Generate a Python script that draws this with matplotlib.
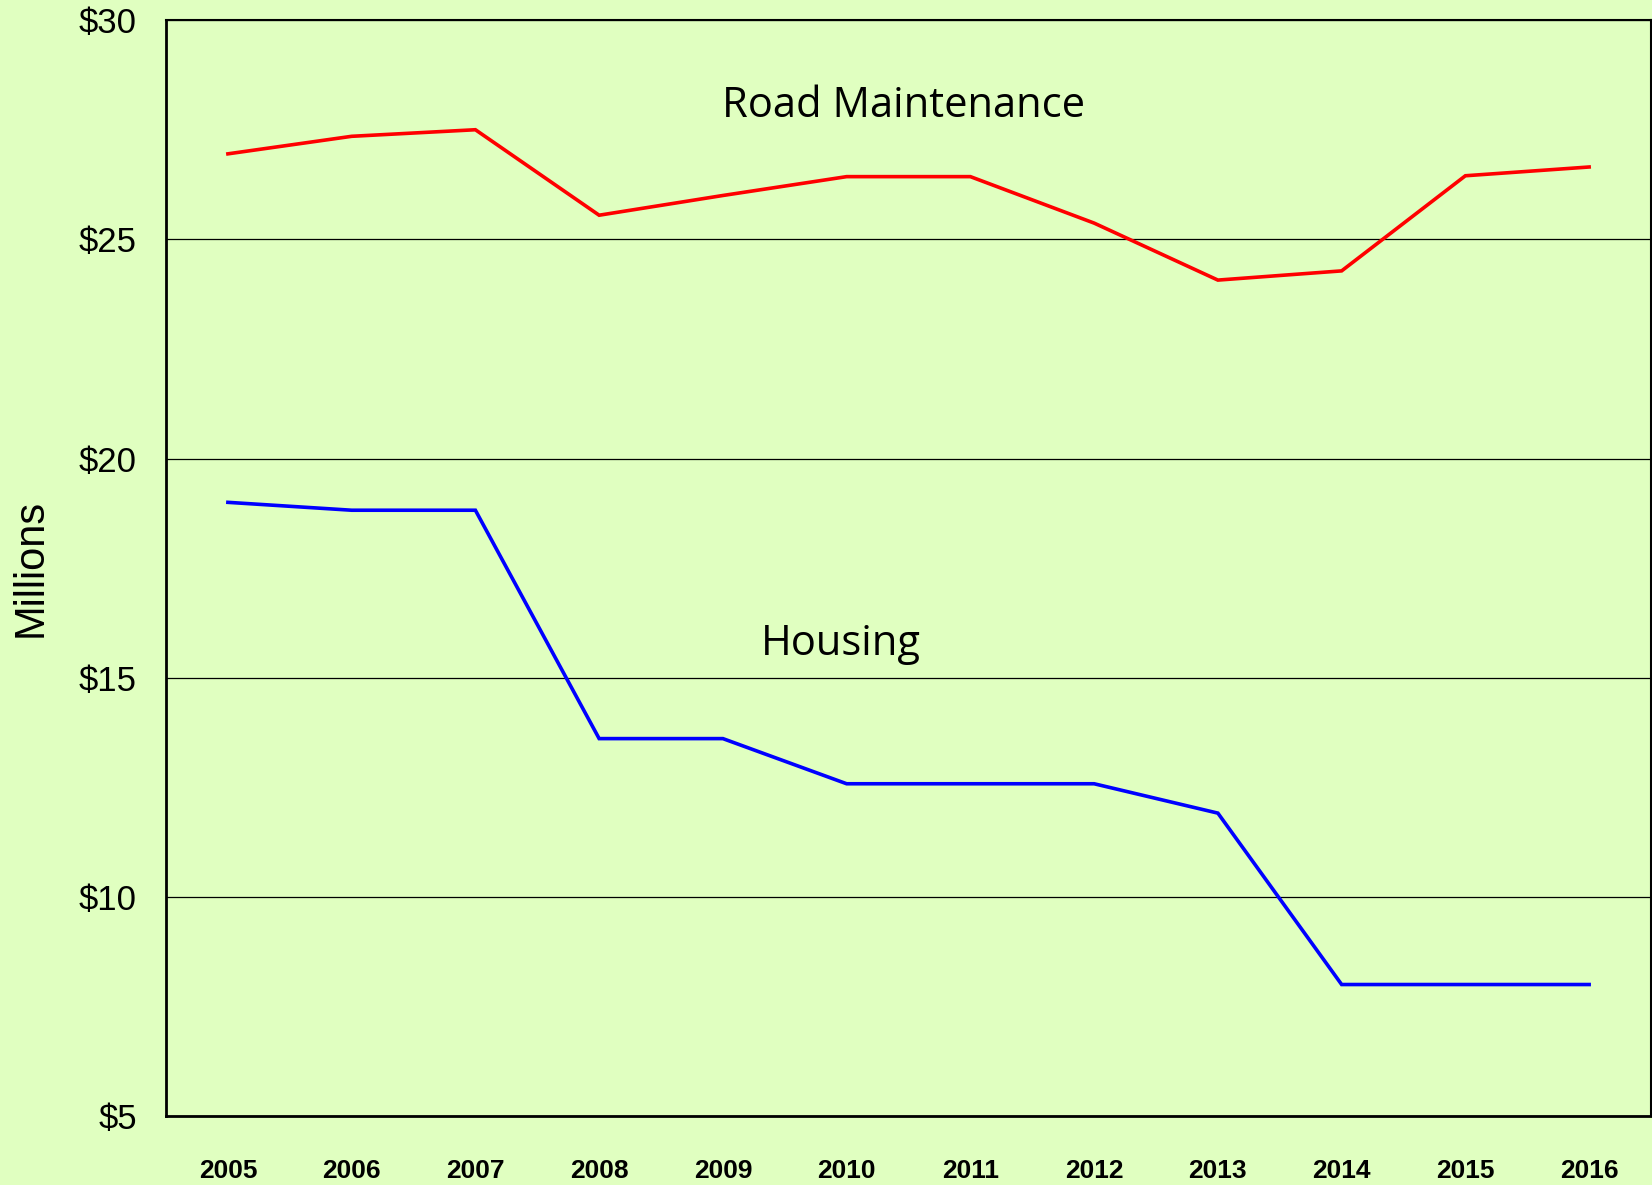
import matplotlib
matplotlib.use("Agg")
import matplotlib.pyplot as plt

years = ["2005", "2006", "2007", "2008", "2009", "2010", "2011", "2012", "2013", "2014", "2015", "2016"]
road_maintenance = [26.95, 27.35, 27.5, 25.55, 26.0, 26.43, 26.43, 25.37, 24.07, 24.28, 26.45, 26.65]
housing = [19.0, 18.82, 18.82, 13.61, 13.61, 12.58, 12.58, 12.58, 11.91, 8.0, 8.0, 8.0]
y_ticks = [5, 10, 15, 20, 25, 30]
y_tick_labels = ["$5", "$10", "$15", "$20", "$25", "$30"]

bg = "#E0FFC0"
fig = plt.figure(figsize=(16.52, 11.85), dpi=100, facecolor=bg)
ax = fig.add_subplot(111)
fig.subplots_adjust(left=0.1005, right=0.9994, top=0.983, bottom=0.0582)
ax.set_facecolor(bg)

x = list(range(len(years)))
ax.plot(x, road_maintenance, color="#FF0000", lw=2.6, solid_joinstyle="miter", zorder=3)
ax.plot(x, housing, color="#0000FF", lw=2.6, solid_joinstyle="miter", zorder=3)

ax.set_xlim(-0.5, len(years) - 0.5)
ax.set_ylim(5, 30)
ax.set_yticks(y_ticks)
ax.set_yticklabels(y_tick_labels, fontsize=25, family="Liberation Sans")
ax.set_xticks(x)
ax.set_xticklabels(years, fontsize=19, fontweight="bold", family="Liberation Sans")
ax.tick_params(axis="y", length=0, pad=21)
ax.tick_params(axis="x", length=0, pad=31)
ax.yaxis.grid(True, color="black", lw=0.9)
ax.set_axisbelow(True)

for s in ["left", "bottom"]:
    ax.spines[s].set_linewidth(2.0)
for s in ["top", "right"]:
    ax.spines[s].set_linewidth(1.5)

ax.set_ylabel("Millions", fontsize=30, family="Liberation Sans", labelpad=20)

ax.text(5.46, 28.05, "Road Maintenance", fontsize=30, family="Open Sans", ha="center", va="center")
ax.text(4.95, 15.77, "Housing", fontsize=30, family="Open Sans", ha="center", va="center")

fig.savefig("out.png", dpi=100, facecolor=bg)
